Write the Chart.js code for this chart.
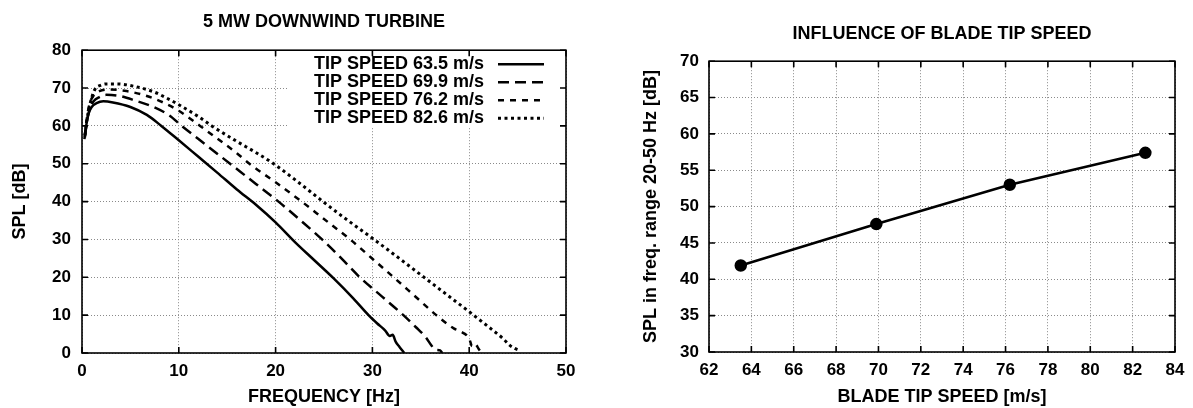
<!DOCTYPE html>
<html>
<head>
<meta charset="utf-8">
<script src="https://cdn.jsdelivr.net/npm/chart.js@4.4.1/dist/chart.umd.min.js"></script>
<style>
  body { margin: 0; background: #fff; }
  #izq { position: absolute; left: 0; top: 0; width: 600px; height: 408px; }
  #der { position: absolute; left: 600px; top: 0; width: 593px; height: 408px; }
</style>
</head>
<body>
<div id="izq"><canvas id="grafico1" width="600" height="408"></canvas></div>
<div id="der"><canvas id="grafico2" width="593" height="408"></canvas></div>
<script>
// --- datos ---
const etiquetas = ["TIP SPEED 63.5 m/s", "TIP SPEED 69.9 m/s", "TIP SPEED 76.2 m/s", "TIP SPEED 82.6 m/s"];

const frec635 = [0.25, 0.4, 0.65, 1.0, 1.5, 2.2, 3.2, 5.0, 6.7, 8.2, 10, 12, 14, 16, 18, 20, 22, 24, 26, 28, 29.6, 30.5, 31.3, 31.8, 32.1, 32.4, 32.8, 33.3];
const spl635  = [56.5, 59.5, 63.0, 65.0, 66.0, 66.5, 66.2, 65.0, 62.9, 60.0, 56.2, 51.9, 47.6, 43.2, 39.1, 34.5, 29.3, 24.5, 19.7, 14.5, 10.0, 7.8, 6.0, 4.5, 4.8, 3.0, 1.6, 0];

const frec699 = [0.3, 0.5, 0.8, 1.2, 1.8, 2.5, 3.9, 5.6, 7.4, 9.0, 10.3, 12, 14, 15.3, 18, 20.3, 22.5, 24.8, 26.8, 28.7, 31, 33.2, 34.5, 35.5, 36.1, 36.5, 37.0, 37.2];
const spl699  = [57.0, 61.0, 64.5, 66.5, 67.6, 68.2, 67.9, 66.6, 65.0, 62.8, 60.0, 56.6, 52.6, 50.0, 44.6, 40.0, 35.2, 30.0, 25.0, 20.0, 14.9, 10.0, 6.8, 4.2, 2.0, 0.9, 0.7, 0];

const frec762 = [0.3, 0.5, 0.8, 1.2, 1.8, 2.9, 4.6, 6.7, 8.8, 10, 12.2, 14, 16, 17.3, 20, 22.7, 25, 27.7, 30, 32.2, 34.4, 36.6, 38.4, 39, 40, 40.3, 40.6, 41.0, 41.3];
const spl762  = [57.5, 62.0, 66.0, 68.0, 69.2, 69.6, 69.2, 67.9, 65.7, 64.0, 60.0, 56.6, 52.8, 50.0, 45.1, 40.0, 35.4, 30.0, 24.9, 20.0, 15.0, 10.0, 6.5, 5.8, 3.8, 1.8, 2.4, 1.0, 0];

const frec826 = [0.3, 0.5, 0.8, 1.3, 2.0, 2.5, 3.6, 5.3, 7.4, 9.0, 10, 12, 13.4, 16, 18, 19.8, 22, 24.9, 27, 30, 32, 34, 36, 38, 40, 42, 43.5, 44.2, 44.7, 45.3];
const spl826  = [57.5, 61.5, 65.5, 69.5, 70.8, 71.1, 71.1, 70.5, 69.0, 67.0, 65.6, 62.5, 60.0, 55.9, 52.9, 50.0, 45.8, 40.0, 35.9, 30.3, 26.5, 22.6, 18.7, 14.8, 10.9, 6.9, 3.8, 2.0, 1.2, 0.6];

const velocidadPunta = [63.5, 69.9, 76.2, 82.6];
const splRango = [41.9, 47.6, 53.0, 57.4];

const ticksX1 = [0, 10, 20, 30, 40, 50];
const ticksY1 = [0, 10, 20, 30, 40, 50, 60, 70, 80];
const ticksX2 = [62, 64, 66, 68, 70, 72, 74, 76, 78, 80, 82, 84];
const ticksY2 = [30, 35, 40, 45, 50, 55, 60, 65, 70];

Chart.defaults.color = "#000";
Chart.defaults.font.family = "'Liberation Sans', Arial, sans-serif";
Chart.defaults.font.weight = "bold";
Chart.defaults.font.size = 17;

const puntos = (xs, ys) => xs.map((x, i) => ({ x, y: ys[i] }));

// marco con marcas hacia adentro (estilo gnuplot)
const marco = {
  id: "marco",
  afterDatasetsDraw(chart) {
    const { ctx, chartArea: a, scales: { x, y } } = chart;
    ctx.save();
    ctx.strokeStyle = "#000";
    ctx.lineWidth = 1.6;
    ctx.strokeRect(a.left, a.top, a.right - a.left, a.bottom - a.top);
    ctx.beginPath();
    x.ticks.forEach(t => {
      const px = x.getPixelForValue(t.value);
      ctx.moveTo(px, a.bottom); ctx.lineTo(px, a.bottom - 6);
      ctx.moveTo(px, a.top); ctx.lineTo(px, a.top + 6);
    });
    y.ticks.forEach(t => {
      const py = y.getPixelForValue(t.value);
      ctx.moveTo(a.left, py); ctx.lineTo(a.left + 6, py);
      ctx.moveTo(a.right, py); ctx.lineTo(a.right - 6, py);
    });
    ctx.stroke();
    ctx.restore();
  }
};

// leyenda dentro del área, arriba a la derecha
const leyenda = {
  id: "leyenda",
  beforeDatasetsDraw(chart) {
    const { ctx, chartArea: a } = chart;
    ctx.save();
    ctx.fillStyle = "#fff";
    ctx.fillRect(a.left + 205, a.top + 1, a.right - a.left - 206, 76);
    ctx.restore();
  },
  afterDraw(chart) {
    const { ctx, chartArea: a } = chart;
    ctx.save();
    ctx.font = "bold 18px 'Liberation Sans', Arial, sans-serif";
    ctx.textAlign = "right";
    ctx.textBaseline = "middle";
    ctx.fillStyle = "#000";
    chart.data.datasets.forEach((ds, i) => {
      const yy = a.top + 14 + i * 18;
      ctx.fillText(ds.label, a.right - 82, yy);
      ctx.beginPath();
      ctx.strokeStyle = "#000";
      ctx.lineWidth = ds.borderWidth;
      ctx.setLineDash(ds.borderDash || []);
      ctx.moveTo(a.right - 68, yy);
      ctx.lineTo(a.right - 22, yy);
      ctx.stroke();
    });
    ctx.restore();
  }
};

const rejilla = { color: "#8a8a8a", lineWidth: 1, drawTicks: false };
const bordeRejilla = { display: false, dash: [1, 2] };

const estiloCurva = { borderColor: "#000", pointRadius: 0, cubicInterpolationMode: "monotone" };

new Chart(document.getElementById("grafico1"), {
  type: "line",
  data: {
    datasets: [
      { ...estiloCurva, label: etiquetas[0], data: puntos(frec635, spl635), borderWidth: 2.5 },
      { ...estiloCurva, label: etiquetas[1], data: puntos(frec699, spl699), borderWidth: 2.5, borderDash: [11, 6] },
      { ...estiloCurva, label: etiquetas[2], data: puntos(frec762, spl762), borderWidth: 2.5, borderDash: [6, 6] },
      { ...estiloCurva, label: etiquetas[3], data: puntos(frec826, spl826), borderWidth: 3, borderDash: [3, 3.5] }
    ]
  },
  options: {
    responsive: false,
    animation: false,
    layout: { padding: { left: 0, right: 34, top: 0, bottom: 0 } },
    plugins: {
      legend: { display: false },
      tooltip: { enabled: false },
      title: {
        display: true, fullSize: false,
        text: "5 MW DOWNWIND TURBINE",
        font: { size: 18, weight: "bold" },
        padding: { top: 11, bottom: 17.6 }
      }
    },
    scales: {
      x: {
        type: "linear", min: 0, max: 50,
        afterBuildTicks: s => { s.ticks = ticksX1.map(v => ({ value: v })); },
        afterFit: s => { s.height = 55; },
        grid: rejilla, border: bordeRejilla,
        ticks: { padding: 8 },
        title: { display: true, text: "FREQUENCY [Hz]", font: { size: 18, weight: "bold" }, padding: { top: 0, bottom: 0 } }
      },
      y: {
        min: 0, max: 80,
        afterBuildTicks: s => { s.ticks = ticksY1.map(v => ({ value: v })); },
        afterFit: s => { s.width = 82; },
        grid: rejilla, border: bordeRejilla,
        ticks: { padding: 11 },
        title: { display: true, text: "SPL [dB]", font: { size: 18, weight: "bold" }, padding: { top: 9, bottom: 0 } }
      }
    }
  },
  plugins: [leyenda, marco]
});

new Chart(document.getElementById("grafico2"), {
  type: "line",
  data: {
    datasets: [
      { data: puntos(velocidadPunta, splRango), borderColor: "#000", borderWidth: 2.5,
        pointRadius: 5, pointBackgroundColor: "#000", pointBorderColor: "#000" }
    ]
  },
  options: {
    responsive: false,
    animation: false,
    layout: { padding: { left: 0, right: 18, top: 0, bottom: 0 } },
    plugins: {
      legend: { display: false },
      tooltip: { enabled: false },
      title: {
        display: true, fullSize: false,
        text: "INFLUENCE OF BLADE TIP SPEED",
        font: { size: 18, weight: "bold" },
        padding: { top: 22.8, bottom: 16.8 }
      }
    },
    scales: {
      x: {
        type: "linear", min: 62, max: 84,
        afterBuildTicks: s => { s.ticks = ticksX2.map(v => ({ value: v })); },
        afterFit: s => { s.height = 56; },
        grid: rejilla, border: bordeRejilla,
        ticks: { padding: 8 },
        title: { display: true, text: "BLADE TIP SPEED [m/s]", font: { size: 18, weight: "bold" }, padding: { top: 0, bottom: 0 } }
      },
      y: {
        min: 30, max: 70,
        afterBuildTicks: s => { s.ticks = ticksY2.map(v => ({ value: v })); },
        afterFit: s => { s.width = 109; },
        grid: rejilla, border: bordeRejilla,
        ticks: { padding: 10 },
        title: { display: true, text: "SPL in freq. range 20-50 Hz [dB]", font: { size: 18, weight: "bold" }, padding: { top: 40, bottom: 0 } }
      }
    }
  },
  plugins: [marco]
});
</script>
</body>
</html>
